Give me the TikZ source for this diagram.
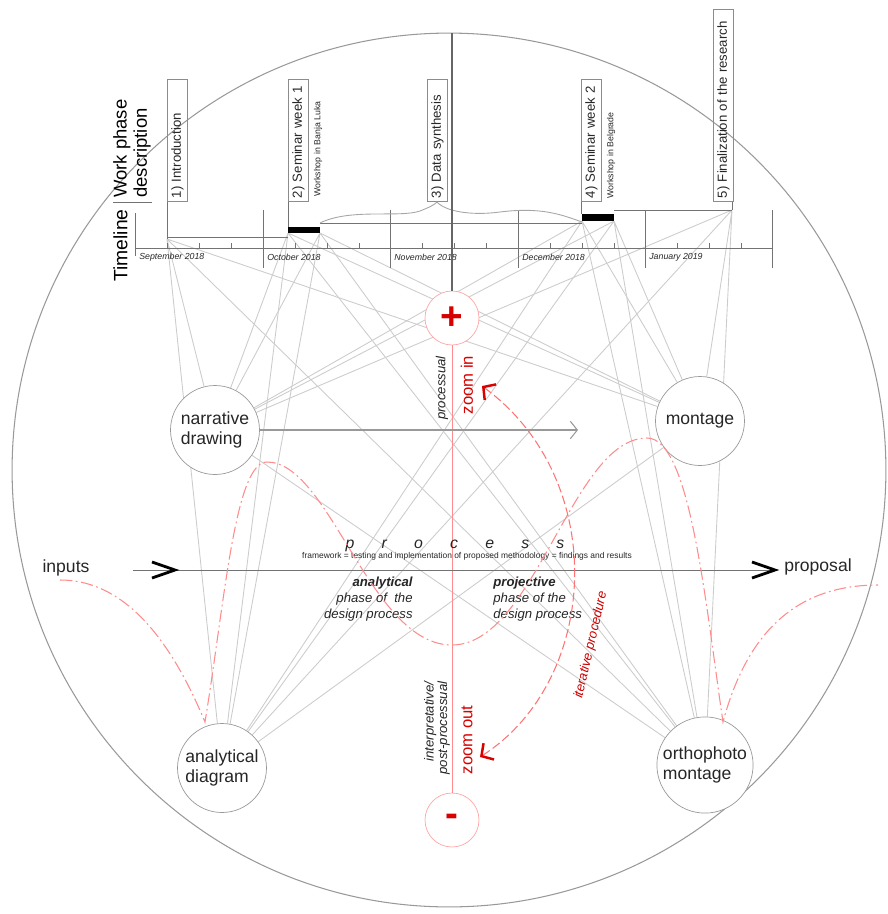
\documentclass[tikz,border=0pt]{standalone}
\usepackage{fontspec}
\setmainfont{Liberation Sans}
\usepackage{tikz}
\usetikzlibrary{
  arrows.meta,
  positioning,
  backgrounds
}

\begin{document}
\begin{tikzpicture}[
      x=0.02cm, y=-0.02cm,
      concept/.style={
         circle,
         minimum size=1.78cm,
         inner sep=1pt,
         draw=black!40,
         fill=white,
         text=black!85,
         align=left,
         font=\fontsize{10}{11.5}\selectfont
      },
      zoomsign/.style={
         circle,
         minimum size=1.08cm,
         inner sep=0pt,
         draw=red!35,
         fill=white,
         text=red!85!black,
         font=\fontsize{22}{22}\selectfont\bfseries
      },
      phasebox/.style={
         draw=black!45,
         rotate=90,
         anchor=north west,
         minimum height=0.4cm,
         inner xsep=2pt,
         inner ysep=1pt,
         text width=#1,
         align=left,
         text=black!85,
         font=\fontsize{7.5}{8}\selectfont
      },
      workshop/.style={
         rotate=90,
         anchor=west,
         inner sep=0pt,
         text=black!85,
         font=\fontsize{5}{6}\selectfont
      },
      month/.style={
         anchor=west,
         inner sep=0pt,
         text=black!85,
         font=\fontsize{5}{6}\selectfont\itshape
      },
      phase/.style={
         inner sep=0pt,
         text=black!85,
         font=\fontsize{7.5}{9.1}\selectfont\itshape
      },
      note/.style={
         rotate=90,
         inner sep=0pt,
         text=black!85,
         font=\fontsize{7.5}{7.6}\selectfont\itshape
      },
      zoomtext/.style={
         rotate=90,
         inner sep=0pt,
         text=red!85!black,
         font=\fontsize{9.5}{10}\selectfont
      },
      axis/.style={draw=black!55, line width=0.5pt},
      link/.style={draw=black!20, line width=0.5pt},
      chevron/.style={draw=black, line width=1.6pt, line join=miter},
      %redline/.style={draw=red!45, line width=0.4pt},
      redline/.style={draw=red!45, line width=0.4pt},
      wave/.style={draw=red!45, line width=0.6pt,
         dash pattern=on 7pt off 2pt on 1pt off 2pt},
      zoomarc/.style={draw=red!55, line width=0.6pt, dash pattern=on 5pt off 2pt,
         {Straight Barb[length=5pt,width=11pt,line width=1.4pt,red!85!black]}-{Straight Barb[length=5pt,width=11pt,line width=1.4pt,red!85!black]}},
    ]
    \useasboundingbox (0,0) rectangle (888,914);

    % big frame
    \draw[draw=black!40, line width=0.6pt] (449,470) circle[radius=8.74cm];

    % timeline
    \node[rotate=90, anchor=north west, inner sep=0pt, font=\fontsize{11}{12}\selectfont] (tl) at (113,282) {Timeline};
    \node[rotate=90, anchor=north west, inner sep=0pt, align=left, font=\fontsize{10.5}{11.5}\selectfont] (wp) at (113,198) {Work phase\\description};
    \draw[axis] (113,202) -- (152,202);
    \draw[axis] (135,248) -- (773,248);
    \draw[axis] (135,213) -- (135,256) (263,210) -- (263,268) (390,210) -- (390,268)
      (518,210) -- (518,268) (645,210) -- (645,268) (772,210) -- (772,268);
    \draw[axis] (167,243) -- (167,248) (199,243) -- (199,248) (231,243) -- (231,248)
      (295,243) -- (295,248) (327,243) -- (327,248) (359,243) -- (359,248)
      (422,243) -- (422,248) (454,243) -- (454,248) (486,243) -- (486,248)
      (550,243) -- (550,248) (582,243) -- (582,248) (614,243) -- (614,248)
      (677,243) -- (677,248) (709,243) -- (709,248) (741,243) -- (741,248);
    \node[month] (m1) at (139,257) {September 2018};
    \node[month] (m2) at (267,257) {October 2018};
    \node[month] (m3) at (394,257) {November 2018};
    \node[month] (m4) at (522,257) {December 2018};
    \node[month] (m5) at (649,257) {January 2019};

    % work phases
    \node[phasebox=2.30cm] (ph1) at (167,202) {1) Introduction};
    \node[phasebox=2.30cm] (ph2) at (288,202) {2) Seminar week 1};
    \node[workshop] (ws1) at (318,197) {Workshop in Banja Luka};
    \node[phasebox=2.30cm] (ph3) at (427,202) {3) Data synthesis};
    \node[phasebox=2.30cm] (ph4) at (581,202) {4) Seminar week 2};
    \node[workshop] (ws2) at (611,199) {Workshop in Belgrade};
    \node[phasebox=3.70cm] (ph5) at (713,202) {5) Finalization of the research};

    \coordinate (t1) at (167,239);
    \coordinate (t2) at (288,233);
    \coordinate (t3) at (320,233);
    \coordinate (t4) at (582,221);
    \coordinate (t5) at (614,221);
    \coordinate (t6) at (732,210);
    \fill[black] (288,227) rectangle (320,233);
    \fill[black] (582,214) rectangle (614,221);
    \draw[axis] (167,202) -- (t1) (167,237) -- (288,237);
    \draw[axis] (288,202) -- (288,227) (581,202) -- (581,214) (732,202) -- (t6);
    \draw[axis] (320,223) -- (582,223) (614,210) -- (t6);
    \draw[axis, draw=black!35] (320,223) .. controls (350,208) and (400,218) .. (420,211)
      .. controls (430,207) and (434,205) .. (437,202)
      .. controls (445,211) and (470,216) .. (500,212)
      .. controls (540,207) and (560,214) .. (582,222);

    % concepts
    \node[concept] (nd) at (215,430) {narrative\\drawing};
    \node[concept] (mo) at (700,421) {montage};
    \node[concept] (ad) at (222,768) {analytical\\diagram};
    \node[concept] (om) at (705,765) {orthophoto\\montage};

    \begin{scope}[on background layer]
    \draw[link] (t1) -- (nd) (t1) -- (ad) (t1) -- (mo) (t1) -- (om);
    \draw[link] (t2) -- (nd) (t2) -- (ad) (t2) -- (mo) (t2) -- (om);
    \draw[link] (t3) -- (nd) (t3) -- (ad) (t3) -- (mo) (t3) -- (om);
    \draw[link] (t4) -- (nd) (t4) -- (ad) (t4) -- (mo) (t4) -- (om);
    \draw[link] (t5) -- (nd) (t5) -- (ad) (t5) -- (mo) (t5) -- (om);
    \draw[link] (t6) -- (nd) (t6) -- (ad) (t6) -- (mo) (t6) -- (om);
    \draw[link] (nd) -- (om) (ad) -- (mo);
    \end{scope}

    % zoom axis
    \coordinate (top) at (452,33);
    \node[zoomsign] (plus) at (452,318) {+};
    \node[zoomsign] (minus) at (452,820) {-};
    \draw[draw=black!60, line width=1.4pt] (top) -- (plus);
    \draw[redline] (plus) -- (minus);
    \node[note] (proc) at (442,388) {processual};
    \node[zoomtext] (zin) at (467,385) {zoom in};
    \node[note, align=right] (interp) at (437,728) {interpretative/\\post-processual};
    \node[zoomtext] (zout) at (467,740) {zoom out};

    % narrative flow
    \coordinate (flowend) at (578,430);
    \draw[draw=black!40, line width=0.6pt, -{Straight Barb[length=4pt,width=10pt]}] (nd) -- (flowend);

    % process axis
    \node[font=\fontsize{10}{11}\selectfont, text=black!85] (in) at (66,568) {inputs};
    \node[font=\fontsize{10}{11}\selectfont, text=black!85] (out) at (818,567) {proposal};
    \coordinate (pa) at (133,570);
    \coordinate (pb) at (770,570);
    \draw[axis] (pa) -- (pb);
    \draw[chevron] (152,562) -- (175,570) -- (152,578);
    \draw[chevron] (752,562) -- (775,570) -- (752,578);
    \node[inner sep=0pt, text=black!85, font=\fontsize{9}{10}\selectfont\itshape] (pr) at (455,546)
      {p\hspace{15.5pt}r\hspace{15.5pt}o\hspace{15.5pt}c\hspace{15.5pt}e\hspace{15.5pt}s\hspace{15.5pt}s};
    \node[inner sep=0pt, text=black!85, font=\fontsize{4.8}{5}\selectfont] (fw) at (467,556)
      {framework = testing and implementation of proposed methodology = findings and results};
    \node[phase, anchor=north east, align=right] (an) at (413,577) {\textbf{analytical}\\phase of~ the\\design process};
    \node[phase, anchor=north west, align=left] (pj) at (493,577) {\textbf{projective}\\phase of the\\design process};

    % iteration
    \draw[wave] (60,580) .. controls (130,580) and (175,650) .. (205,722)
      .. controls (225,600) and (235,462) .. (267,462)
      .. controls (330,462) and (370,645) .. (452,645)
      .. controls (535,645) and (572,438) .. (647,438)
      .. controls (690,438) and (705,600) .. (723,722)
      .. controls (745,640) and (790,585) .. (878,585);
    \draw[zoomarc] (482,386) .. controls (610,480) and (600,680) .. (480,757);
    \node[rotate=77, inner sep=0pt, text=red!80!black, font=\fontsize{7.5}{8}\selectfont\itshape] (iter) at (591,645) {iterative procedure};
\end{tikzpicture}
\end{document}
